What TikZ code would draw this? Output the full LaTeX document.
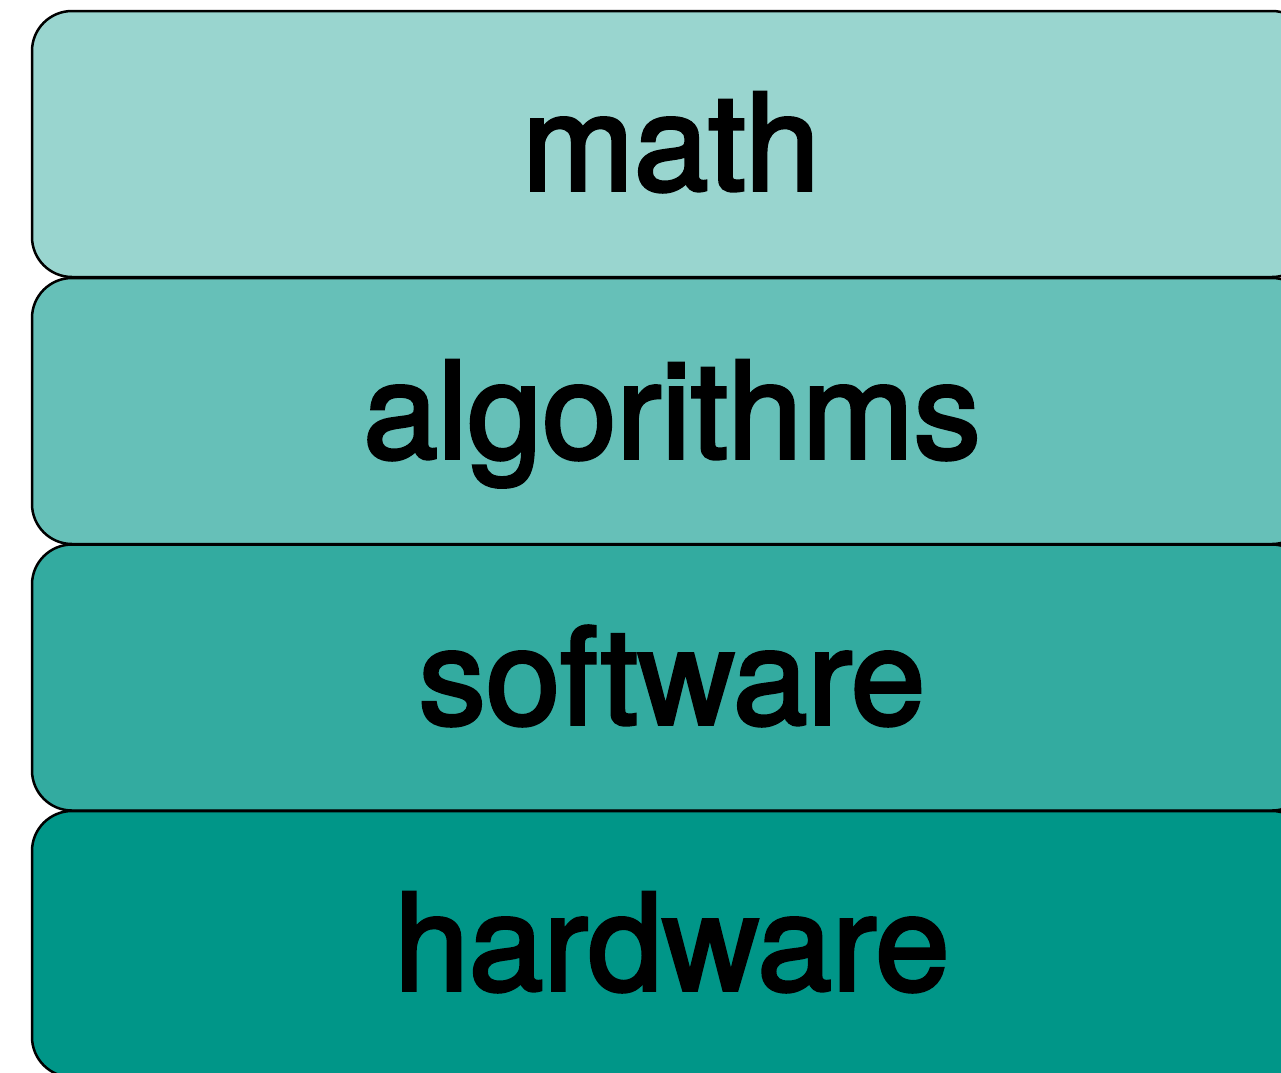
\documentclass[tikz,border=0pt]{standalone}
\usepackage{fontspec}
\setmainfont{TeX Gyre Heros}
\newfontfamily\medfont[FakeBold=2.6]{TeX Gyre Heros}
\definecolor{tealA}{HTML}{99D5CF}
\definecolor{tealB}{HTML}{66C0B8}
\definecolor{tealC}{HTML}{33ABA0}
\definecolor{tealD}{HTML}{009688}
\begin{document}
\begin{tikzpicture}[x=1pt,y=-1pt,
  layer/.style={draw=black, line width=2.5pt, rounded corners=40pt,
    minimum width=1280pt, minimum height=266pt, inner sep=0pt, outer sep=0pt},
  lab/.style={anchor=base, inner sep=0pt, font=\medfont\fontsize{134}{140}\selectfont}]
\useasboundingbox (0,0) rectangle (1281,1072);
\clip (0,0) rectangle (1281,1072);
\node[layer, fill=tealA] (m) at (672,144) {};
\node[layer, fill=tealB] (a) at (672,411) {};
\node[layer, fill=tealC] (s) at (672,677.5) {};
\node[layer, fill=tealD] (h) at (672,944) {};
\node[lab] (mt) at (671,190) {math};
\node[lab] (at) at (672,458) {algorithms};
\node[lab] (st) at (672,724) {software};
\node[lab] (ht) at (672,990) {hardware};
\end{tikzpicture}
\end{document}
